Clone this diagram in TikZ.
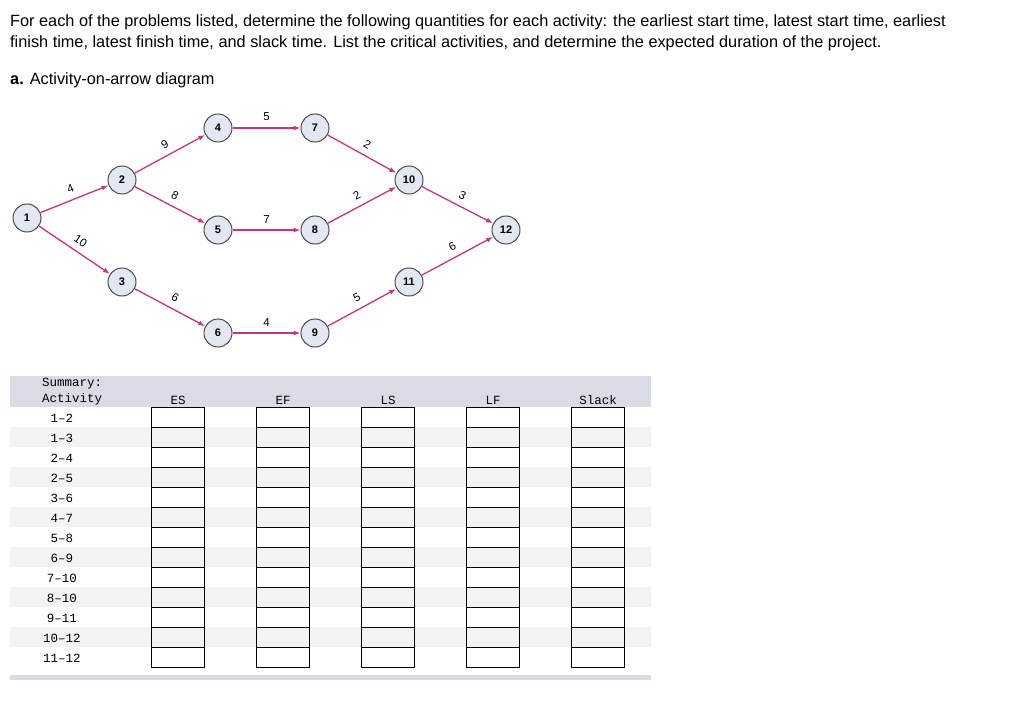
\documentclass[tikz,border=0pt]{standalone}
\usepackage{fontspec}
\setmainfont{Liberation Sans}
\newfontfamily\monof{Liberation Mono}
\usetikzlibrary{arrows.meta}
\definecolor{arr}{HTML}{C9347E}
\definecolor{nfill}{HTML}{E3E7F1}
\definecolor{hdr}{HTML}{D9DCE4}
\definecolor{stripe}{HTML}{F3F3F3}
\tikzset{ev/.style={circle,draw=black!70,fill=nfill,line width=1pt,minimum size=28pt,inner sep=0pt,font=\fontsize{11}{12}\selectfont\bfseries},
act/.style={draw=arr,line width=1.3pt,-{Latex[length=7pt,width=5pt]}},
lab/.style={font=\fontsize{11.5}{12}\selectfont,sloped,above=3pt},
cell/.style={draw=black,line width=0.9pt,minimum width=53pt,minimum height=20pt,inner sep=0pt},
mono/.style={font=\monof\fontsize{12.5}{13}\selectfont}}
\begin{document}
\begin{tikzpicture}[x=1pt,y=-1pt]
\useasboundingbox (0,0) rectangle (1024,703);
\fill[white] (0,0) rectangle (1024,703);
\node[anchor=west,font=\fontsize{16.3}{21}\selectfont,align=left,inner sep=0pt] (intro) at (10,33) {For each of the problems listed, determine the following quantities for each activity: the earliest start time, latest start time, earliest\\finish time, latest finish time, and slack time. List the critical activities, and determine the expected duration of the project.};
\node[anchor=west,font=\fontsize{16.3}{18}\selectfont,inner sep=0pt] (part) at (10,80) {\textbf{a.} Activity-on-arrow diagram};
\node[ev] (n1) at (27,218) {1};
\node[ev] (n2) at (122,180) {2};
\node[ev] (n3) at (122,282) {3};
\node[ev] (n4) at (218,128) {4};
\node[ev] (n5) at (218,230) {5};
\node[ev] (n6) at (218,333) {6};
\node[ev] (n7) at (315,128) {7};
\node[ev] (n8) at (315,230) {8};
\node[ev] (n9) at (315,333) {9};
\node[ev] (n10) at (409,180) {10};
\node[ev] (n11) at (409,282) {11};
\node[ev] (n12) at (506,230) {12};
\draw[act] (n1) -- node[lab]{4} (n2);
\draw[act] (n1) -- node[lab]{10} (n3);
\draw[act] (n2) -- node[lab]{9} (n4);
\draw[act] (n2) -- node[lab]{8} (n5);
\draw[act] (n3) -- node[lab]{6} (n6);
\draw[act] (n4) -- node[lab]{5} (n7);
\draw[act] (n5) -- node[lab]{7} (n8);
\draw[act] (n6) -- node[lab]{4} (n9);
\draw[act] (n7) -- node[lab]{2} (n10);
\draw[act] (n8) -- node[lab]{2} (n10);
\draw[act] (n9) -- node[lab]{5} (n11);
\draw[act] (n10) -- node[lab]{3} (n12);
\draw[act] (n11) -- node[lab]{6} (n12);
% table
\fill[hdr] (10,376) rectangle (651,407);
\foreach \i in {1,3,5,7,9,11} \fill[stripe] (10,407+20*\i) rectangle (651,427+20*\i);
\fill[hdr] (10,675) rectangle (651,680);
\node[mono,anchor=west,inner sep=0pt] (sum) at (42,384) {Summary:};
\node[mono,anchor=west,inner sep=0pt] (acth) at (42,399) {Activity};
\foreach \h/\x in {ES/178,EF/283,LS/388,LF/493,Slack/598} \node[mono] (h\h) at (\x,400) {\h};
\foreach \a [count=\i from 0] in {1–2,1–3,2–4,2–5,3–6,4–7,5–8,6–9,7–10,8–10,9–11,10–12,11–12}{
  \node[mono] (a\i) at (62,418+20*\i) {\a};
  \foreach \x in {178,283,388,493,598} \node[cell] (c\i-\x) at (\x,417+20*\i) {};
}
\end{tikzpicture}
\end{document}
